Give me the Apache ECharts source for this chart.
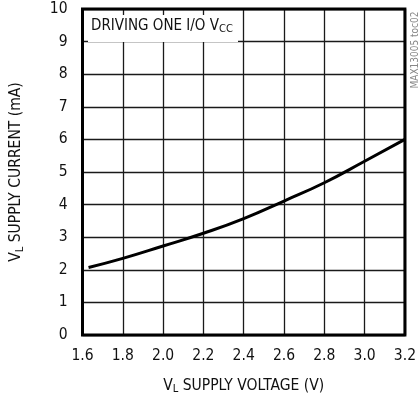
<!DOCTYPE html>
<html><head><meta charset="utf-8">
<script src="https://cdn.jsdelivr.net/npm/echarts@6/dist/echarts.min.js"></script>
<style>html,body{margin:0;padding:0;background:#fff}#c{width:419px;height:400px}</style>
</head><body><div id="c"></div>
<script>
var voltage = [1.63, 1.8, 2.0, 2.2, 2.4, 2.6, 2.8, 3.0, 3.2];
var current = [2.07, 2.35, 2.73, 3.12, 3.57, 4.11, 4.67, 5.33, 6.0];
var xTicks = {min: 1.6, max: 3.2, interval: 0.2};
var yTicks = {min: 0, max: 10, interval: 1};
var FONT = '"Liberation Sans Narrow", "DejaVu Sans Condensed", sans-serif';

var chart = echarts.init(document.getElementById('c'));
chart.setOption({
  animation: false,
  grid: {left: 81, right: 10, top: 9, bottom: 64, show: true, borderColor: '#000', borderWidth: 3, z: 3},
  xAxis: {
    type: 'value', min: xTicks.min, max: xTicks.max, interval: xTicks.interval,
    axisLine: {show: false}, axisTick: {show: false},
    splitLine: {show: true, lineStyle: {color: '#1a1a1a', width: 1.3}},
    axisLabel: {color: '#111', fontSize: 15.5, fontFamily: FONT, margin: 13,
      formatter: function (v) { return v.toFixed(1); }},
    name: '{n|V}{s|L}{n| SUPPLY VOLTAGE (V)}', nameLocation: 'middle', nameGap: 41,
    nameTextStyle: {rich: {
      n: {fontSize: 15.5, fontFamily: FONT, color: '#111'},
      s: {fontSize: 11, fontFamily: FONT, color: '#111', verticalAlign: 'bottom', padding: [8, 0, 0, 0]}
    }}
  },
  yAxis: {
    type: 'value', min: yTicks.min, max: yTicks.max, interval: yTicks.interval,
    axisLine: {show: false}, axisTick: {show: false},
    splitLine: {show: true, lineStyle: {color: '#1a1a1a', width: 1.3}},
    axisLabel: {color: '#111', fontSize: 15.5, fontFamily: FONT, margin: 15},
    name: '{n|V}{s|L}{n| SUPPLY CURRENT (mA)}', nameLocation: 'middle', nameGap: 57,
    nameTextStyle: {rich: {
      n: {fontSize: 15.5, fontFamily: FONT, color: '#111'},
      s: {fontSize: 11, fontFamily: FONT, color: '#111', verticalAlign: 'bottom', padding: [8, 0, 0, 0]}
    }}
  },
  series: [{
    type: 'line', smooth: true, showSymbol: false, z: 4,
    data: voltage.map(function (v, i) { return [v, current[i]]; }),
    lineStyle: {color: '#000', width: 3}
  }],
  graphic: [
    {type: 'rect', left: 88, top: 15, z: 10, shape: {width: 150, height: 27}, style: {fill: '#fff'}},
    {type: 'text', left: 91, top: 19, z: 11, style: {
      text: '{n|DRIVING ONE I/O V}{s|CC}',
      rich: {
        n: {fontSize: 15, fontFamily: FONT, fill: '#111'},
        s: {fontSize: 11, fontFamily: FONT, fill: '#111', verticalAlign: 'bottom', padding: [6, 0, 0, 0]}
      }
    }},
    {type: 'text', x: 415, y: 50, rotation: Math.PI / 2, z: 11, style: {
      text: 'MAX13005 toc02', fontSize: 10, fontFamily: FONT, fill: '#888',
      align: 'center', verticalAlign: 'middle'
    }}
  ]
});
</script></body></html>
